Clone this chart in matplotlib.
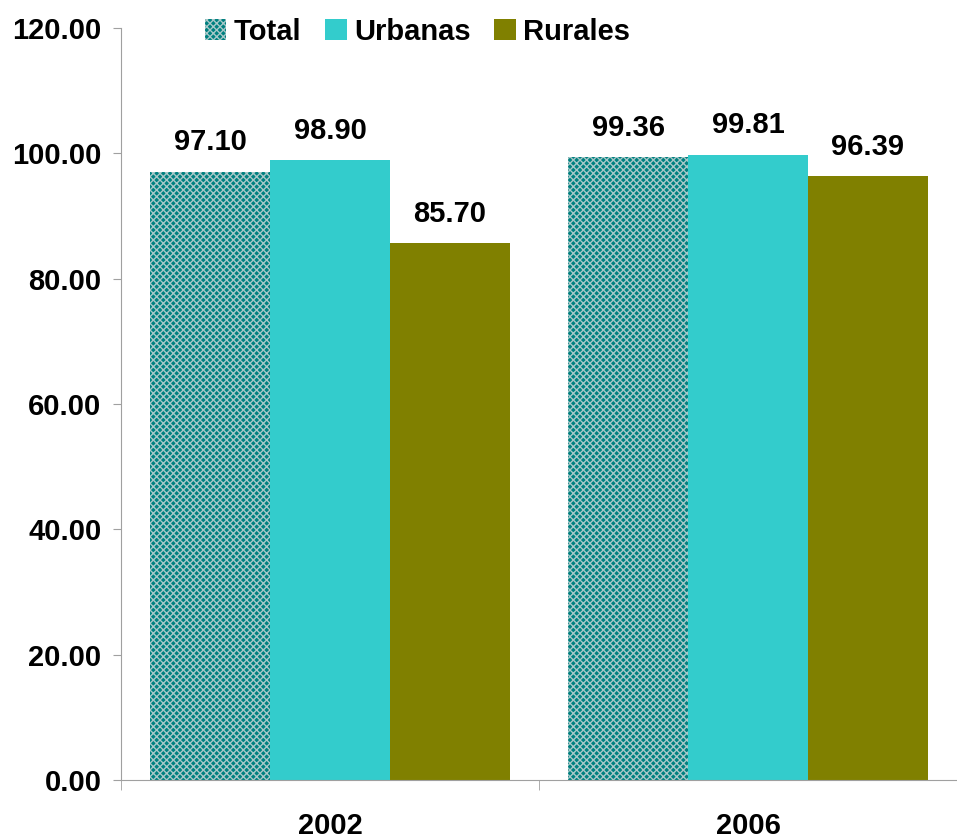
import numpy as np
import matplotlib
matplotlib.use("Agg")
import matplotlib.pyplot as plt

plt.rcParams['font.family'] = ['Liberation Sans', 'DejaVu Sans']
plt.rcParams['font.weight'] = 'bold'
plt.rcParams['hatch.linewidth'] = 1.0

years = ["2002", "2006"]
series = ["Total", "Urbanas", "Rurales"]
total = [97.10, 99.36]
urbanas = [98.90, 99.81]
rurales = [85.70, 96.39]

fig = plt.figure(figsize=(9.57, 8.34), dpi=100)
ax = fig.add_axes([0.1264, 0.0647, 0.8736, 0.9017])

x = np.arange(len(years))
w = 0.287
b1 = ax.bar(x - w, total, w, color='#008080', edgecolor='#a8c8c8', hatch='xxxxx', linewidth=0, label=series[0])
b2 = ax.bar(x, urbanas, w, color='#33CCCC', linewidth=0, label=series[1])
b3 = ax.bar(x + w, rurales, w, color='#808000', linewidth=0, label=series[2])

# etiquetas de valor encima de cada barra
for bars in (b1, b2, b3):
    for r in bars:
        ax.annotate(f"{r.get_height():.2f}", (r.get_x() + r.get_width() / 2, r.get_height()),
                    xytext=(0, 11), textcoords='offset points', ha='center', va='bottom',
                    fontsize=21, fontweight='bold')

ax.set_ylim(0, 120)
ax.set_yticks(np.arange(0, 121, 20))
ax.set_yticklabels([f"{v:.2f}" for v in np.arange(0, 121, 20)])
ax.set_xlim(-0.5, 1.468)
ax.set_xticks(x)
ax.set_xticklabels(years)
ax.set_xticks([-0.5, 0.5, 1.5], minor=True)
ax.tick_params(axis='x', which='major', length=0, pad=23, labelsize=21)
ax.tick_params(axis='x', which='minor', length=7, color='#a0a0a0', direction='out')
ax.tick_params(axis='y', length=6, pad=8, color='#a0a0a0', labelsize=21)

for s in ['top', 'right']:
    ax.spines[s].set_visible(False)
for s in ['left', 'bottom']:
    ax.spines[s].set_color('#a0a0a0')

ax.legend(loc='center', bbox_to_anchor=(0.436, 0.962), bbox_transform=fig.transFigure,
          ncol=3, frameon=False, fontsize=21, handlelength=0.75, handleheight=0.75,
          handletextpad=0.25, columnspacing=0.8, borderaxespad=0)

fig.savefig("out.png", dpi=100)
